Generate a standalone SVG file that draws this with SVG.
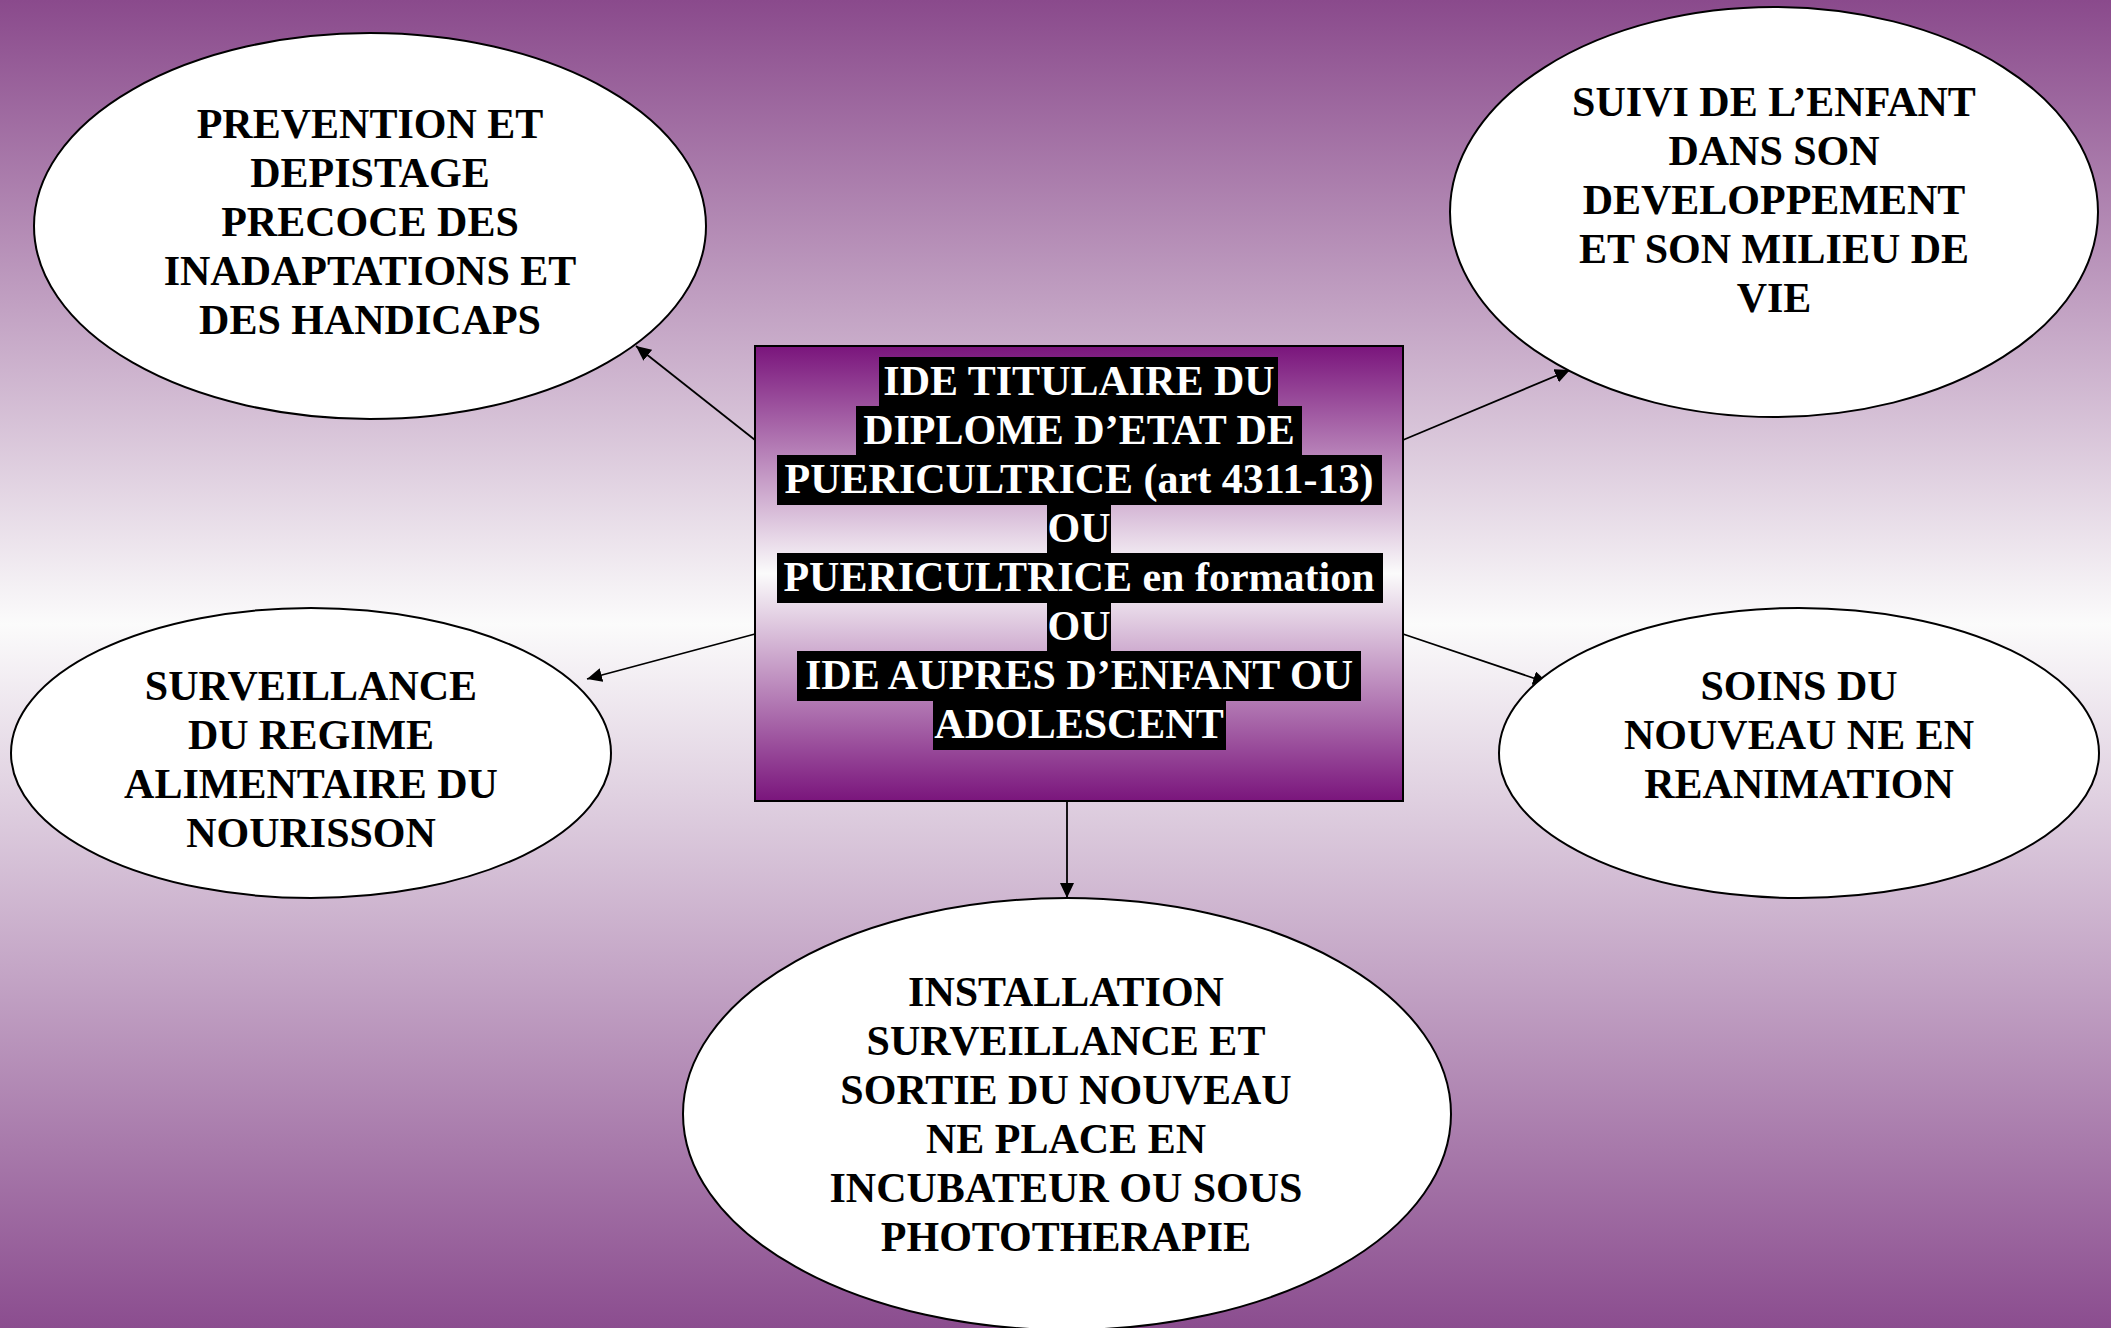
<svg xmlns="http://www.w3.org/2000/svg" width="2111" height="1328" viewBox="0 0 2111 1328">
<defs>
<linearGradient id="bg" x1="0" y1="0" x2="0" y2="1">
<stop offset="0" stop-color="#8a4a8c"/>
<stop offset="0.47" stop-color="#fbfbfb"/>
<stop offset="1" stop-color="#8b4d8f"/>
</linearGradient>
<linearGradient id="boxg" x1="0" y1="0" x2="0" y2="1">
<stop offset="0" stop-color="#7a157c"/>
<stop offset="0.5" stop-color="#fbfbfb"/>
<stop offset="1" stop-color="#7a157c"/>
</linearGradient>
<marker id="arr" viewBox="0 0 15 14" refX="15" refY="7" markerWidth="15" markerHeight="14" markerUnits="userSpaceOnUse" orient="auto">
<path d="M0,0 L15,7 L0,14 z" fill="#000"/>
</marker>
<style>
.el{fill:#fff;stroke:#000;stroke-width:2}
.t{font-family:"Liberation Serif","Times New Roman",serif;font-weight:bold;font-size:42px;text-anchor:middle;fill:#000}
.w{fill:#fff}
.hl{fill:#000}
.c{stroke:#000;stroke-width:1.8;fill:none;marker-end:url(#arr)}
</style>
</defs>
<rect x="0" y="0" width="2111" height="1328" fill="url(#bg)"/>

<g id="connectors">
<line class="c" x1="755" y1="440" x2="636" y2="346"/>
<line class="c" x1="1403" y1="440" x2="1570" y2="370"/>
<line class="c" x1="755" y1="634" x2="587" y2="679"/>
<line class="c" x1="1403" y1="634" x2="1548" y2="683"/>
<line class="c" x1="1067" y1="801" x2="1067" y2="898"/>
</g>

<g id="center">
<rect x="755" y="346" width="648" height="455" fill="url(#boxg)" stroke="#000" stroke-width="2"/>
<rect class="hl" x="879" y="357" width="399" height="50"/>
<rect class="hl" x="856" y="406" width="446" height="50"/>
<rect class="hl" x="777" y="455" width="605" height="50"/>
<rect class="hl" x="1047" y="504" width="64" height="50"/>
<rect class="hl" x="777" y="553" width="606" height="50"/>
<rect class="hl" x="1047" y="602" width="64" height="50"/>
<rect class="hl" x="797" y="651" width="564" height="50"/>
<rect class="hl" x="933" y="700" width="293" height="50"/>
<text class="t w" x="1079" y="395">IDE TITULAIRE DU</text>
<text class="t w" x="1079" y="444">DIPLOME D’ETAT DE</text>
<text class="t w" x="1079" y="493">PUERICULTRICE (art 4311-13)</text>
<text class="t w" x="1079" y="542">OU</text>
<text class="t w" x="1079" y="591">PUERICULTRICE en formation</text>
<text class="t w" x="1079" y="640">OU</text>
<text class="t w" x="1079" y="689">IDE AUPRES D’ENFANT OU</text>
<text class="t w" x="1079" y="738">ADOLESCENT</text>
</g>

<g id="prevention">
<ellipse class="el" cx="370" cy="226" rx="336" ry="193"/>
<text class="t" x="370" y="138">PREVENTION ET</text>
<text class="t" x="370" y="187">DEPISTAGE</text>
<text class="t" x="370" y="236">PRECOCE DES</text>
<text class="t" x="370" y="285">INADAPTATIONS ET</text>
<text class="t" x="370" y="334">DES HANDICAPS</text>
</g>

<g id="suivi">
<ellipse class="el" cx="1774" cy="212" rx="324" ry="205"/>
<text class="t" x="1774" y="116">SUIVI DE L’ENFANT</text>
<text class="t" x="1774" y="165">DANS SON</text>
<text class="t" x="1774" y="214">DEVELOPPEMENT</text>
<text class="t" x="1774" y="263">ET SON MILIEU DE</text>
<text class="t" x="1774" y="312">VIE</text>
</g>

<g id="surveillance">
<ellipse class="el" cx="311" cy="753" rx="300" ry="145"/>
<text class="t" x="311" y="700">SURVEILLANCE</text>
<text class="t" x="311" y="749">DU REGIME</text>
<text class="t" x="311" y="798">ALIMENTAIRE DU</text>
<text class="t" x="311" y="847">NOURISSON</text>
</g>

<g id="soins">
<ellipse class="el" cx="1799" cy="753" rx="300" ry="145"/>
<text class="t" x="1799" y="700">SOINS DU</text>
<text class="t" x="1799" y="749">NOUVEAU NE EN</text>
<text class="t" x="1799" y="798">REANIMATION</text>
</g>

<g id="installation">
<ellipse class="el" cx="1067" cy="1114" rx="384" ry="216"/>
<text class="t" x="1066" y="1006">INSTALLATION</text>
<text class="t" x="1066" y="1055">SURVEILLANCE ET</text>
<text class="t" x="1066" y="1104">SORTIE DU NOUVEAU</text>
<text class="t" x="1066" y="1153">NE PLACE EN</text>
<text class="t" x="1066" y="1202">INCUBATEUR OU SOUS</text>
<text class="t" x="1066" y="1251">PHOTOTHERAPIE</text>
</g>
</svg>
